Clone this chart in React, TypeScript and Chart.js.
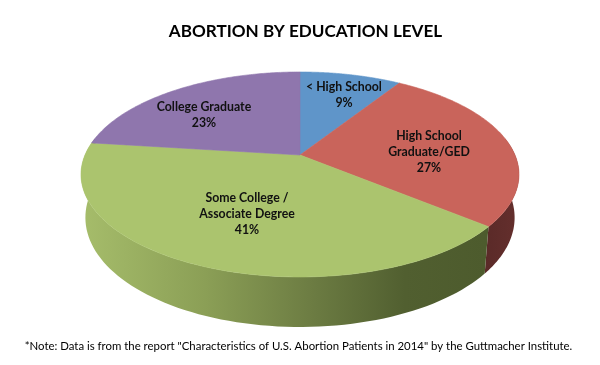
import React, { useEffect, useRef } from "react";
import { Chart, registerables } from "chart.js";

Chart.register(...registerables);

const categories = ["< High School", "High School Graduate/GED", "Some College / Associate Degree", "College Graduate"];
const shares = [9, 27, 41, 23];
const labelLines = [
  ["< High School", "9%"],
  ["High School", "Graduate/GED", "27%"],
  ["Some College /", "Associate Degree", "41%"],
  ["College Graduate", "23%"],
];
const topColors = ["#5f95c9", "#c9645b", "#abc46e", "#8f76ad"];
const titleText = "ABORTION BY EDUCATION LEVEL";
const noteText = '*Note: Data is from the report "Characteristics of U.S. Abortion Patients in 2014" by the Guttmacher Institute.';

// Perspective disc: projected centre, half axes and foreshortening
const CX = 300, CY = 155, AX = 215, BY = 98.8, K = 0.19;
// Lower rim of the slab: shrink towards the axis, and drop that grows towards the viewer
const RIM_SCALE = 0.98, DROP_BASE = 41.5, DROP_NEAR = 8.5;
const LABEL_ANCHORS = [[344, 95], [429, 152], [247, 214.5], [204, 115]];

function topRim(theta: number) {
  const u = Math.sin(theta);
  const v = -Math.cos(theta);
  const w = 1 - K * v;
  return [CX + (AX * u) / w, CY + (BY * v) / w];
}

function lowerRim(theta: number) {
  const [x, y] = topRim(theta);
  return [CX + RIM_SCALE * (x - CX), y + DROP_BASE + DROP_NEAR * -Math.cos(theta)];
}

function sideFill(ctx: CanvasRenderingContext2D, index: number) {
  if (index === 2) {
    const g = ctx.createLinearGradient(85, 0, 485, 0);
    g.addColorStop(0, "#a5bc6a");
    g.addColorStop(0.3, "#8b9f56");
    g.addColorStop(0.56, "#6d7d43");
    g.addColorStop(0.8, "#515f30");
    g.addColorStop(1, "#4d5b2d");
    return g;
  }
  if (index === 1) {
    const g = ctx.createLinearGradient(484, 0, 520, 0);
    g.addColorStop(0, "#5a2a28");
    g.addColorStop(1, "#652f2d");
    return g;
  }
  return "#555555";
}

const pie3dPlugin = {
  id: "pie3d",
  beforeDatasetsDraw(chart: any) {
    const ctx: CanvasRenderingContext2D = chart.ctx;
    const arcs = chart.getDatasetMeta(0).data;
    const LO = (80 * Math.PI) / 180, HI = (280 * Math.PI) / 180;
    const range = (a: any) => [a.startAngle + Math.PI / 2, a.endAngle + Math.PI / 2];
    ctx.save();
    arcs.forEach((arc: any, i: number) => {
      const [a0, a1] = range(arc);
      const from = Math.max(a0, LO), to = Math.min(a1, HI);
      if (to <= from) return;
      ctx.beginPath();
      const n = 80;
      for (let j = 0; j <= n; j++) {
        const p = topRim(from + ((to - from) * j) / n);
        j ? ctx.lineTo(p[0], p[1]) : ctx.moveTo(p[0], p[1]);
      }
      for (let j = n; j >= 0; j--) {
        const p = lowerRim(from + ((to - from) * j) / n);
        ctx.lineTo(p[0], p[1]);
      }
      ctx.closePath();
      ctx.fillStyle = sideFill(ctx, i);
      ctx.fill();
    });
    arcs.forEach((arc: any, i: number) => {
      const [a0, a1] = range(arc);
      ctx.beginPath();
      ctx.moveTo(CX, CY);
      const n = 120;
      for (let j = 0; j <= n; j++) {
        const p = topRim(a0 + ((a1 - a0) * j) / n);
        ctx.lineTo(p[0], p[1]);
      }
      ctx.closePath();
      ctx.fillStyle = topColors[i];
      ctx.strokeStyle = topColors[i];
      ctx.lineWidth = 0.6;
      ctx.fill();
      ctx.stroke();
    });
    ctx.restore();
    return false;
  },
  afterDraw(chart: any) {
    const ctx: CanvasRenderingContext2D = chart.ctx;
    ctx.save();
    ctx.fillStyle = "#111111";
    ctx.textAlign = "center";
    ctx.textBaseline = "middle";
    ctx.font = "bold 12.3px Lato";
    labelLines.forEach((lines, i) => {
      const [x, y] = LABEL_ANCHORS[i];
      lines.forEach((line, j) => {
        ctx.fillText(line, x, y + (j - (lines.length - 1) / 2) * 16);
      });
    });
    ctx.font = "11.4px Lato";
    ctx.fillStyle = "#000000";
    ctx.fillText(noteText, 298.5, 346);
    ctx.restore();
  },
};

export default function App() {
  const ref = useRef<HTMLCanvasElement>(null);
  useEffect(() => {
    const chart = new Chart(ref.current!, {
      type: "pie",
      data: {
        labels: categories,
        datasets: [{ data: shares, backgroundColor: topColors, borderWidth: 0 }],
      },
      options: {
        responsive: false,
        animation: false,
        layout: { padding: { left: 11 } },
        plugins: {
          legend: { display: false },
          tooltip: { enabled: false },
          title: {
            display: true,
            text: titleText,
            color: "#000000",
            font: { family: "Lato", size: 17.1, weight: "bold" },
            padding: { top: 21, bottom: 10 },
          },
        },
      },
      plugins: [pie3dPlugin],
    } as any);
    return () => chart.destroy();
  }, []);
  return (
    <div style={{ position: "absolute", left: 0, top: 0, width: 600, height: 365, background: "#ffffff" }}>
      <canvas ref={ref} width={600} height={365} style={{ display: "block" }} />
    </div>
  );
}
